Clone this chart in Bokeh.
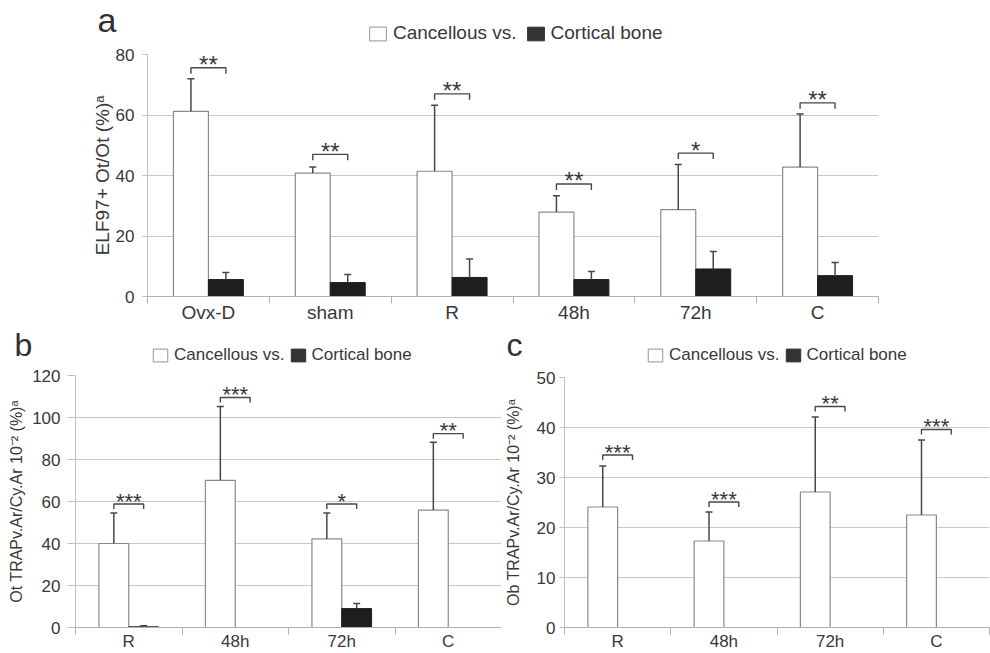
from bokeh.plotting import figure
from bokeh.models import (ColumnDataSource, FixedTicker, Whisker, TeeHead, Label,
                          Legend, LegendItem)
from bokeh.layouts import column, row
from bokeh.embed import file_html
from bokeh.resources import INLINE
from bokeh.core.properties import value

# ---------------- data ----------------
a_groups = ["Ovx-D", "sham", "R", "48h", "72h", "C"]
a_canc = [61.2, 40.8, 41.4, 27.9, 28.7, 42.8]
a_canc_sd = [10.8, 2.0, 21.8, 5.4, 14.9, 17.5]
a_cort = [5.6, 4.6, 6.3, 5.6, 9.1, 6.9]
a_cort_sd = [2.3, 2.7, 6.1, 2.7, 5.8, 4.3]
a_sig = ["**", "**", "**", "**", "*", "**"]
a_sig_y = [75.6, 47.0, 67.0, 37.2, 47.4, 64.0]
a_yticks = [0, 20, 40, 60, 80]

b_groups = ["R", "48h", "72h", "C"]
b_canc = [40.0, 70.1, 42.2, 55.9]
b_canc_sd = [14.5, 35.1, 12.3, 32.3]
b_cort = [0.3, 0.0, 9.0, 0.0]
b_cort_sd = [0.5, 0.0, 2.4, 0.0]
b_sig = ["***", "***", "*", "**"]
b_sig_y = [58.8, 109.5, 58.8, 92.3]
b_yticks = [0, 20, 40, 60, 80, 100, 120]

c_groups = ["R", "48h", "72h", "C"]
c_canc = [24.1, 17.3, 27.1, 22.5]
c_canc_sd = [8.2, 5.8, 15.0, 15.0]
c_cort = [0.0, 0.0, 0.0, 0.0]
c_cort_sd = [0.0, 0.0, 0.0, 0.0]
c_sig = ["***", "***", "**", "***"]
c_sig_y = [34.5, 25.1, 44.2, 39.6]
c_yticks = [0, 10, 20, 30, 40, 50]

legend_labels = ["Cancellous vs.", "Cortical bone"]

FONT = "Liberation Sans"
TXT = "#383838"
ERR = "#474747"


def make_header(width, height, canc, cort, letter, letter_xy, letter_fs, leg_xy, glyph_wh,
                fs_leg, spacing):
    """Strip above a panel holding the panel letter and the legend."""
    n = len(canc)
    h = figure(width=width, height=height, x_range=(0, n), y_range=(0, 100),
               output_backend="svg", toolbar_location=None,
               x_axis_location=None, y_axis_location=None,
               min_border_left=0, min_border_right=0, min_border_top=0,
               min_border_bottom=0)
    h.frame_align = False
    h.outline_line_color = None
    h.grid.visible = False
    h.background_fill_color = "white"
    h.border_fill_color = "white"
    xs = [i + 0.5 for i in range(n)]
    # hidden legend proxies (same series), only their swatches are shown in the legend
    rw = h.vbar(x=xs, top=canc, bottom=0, width=0.3, fill_color="white",
                line_color="#a8a8a8", line_width=1.2, visible=False)
    rb = h.vbar(x=xs, top=cort, bottom=0, width=0.3, fill_color="#333333",
                line_color="#333333", line_width=1, visible=False)
    legend = Legend(items=[LegendItem(label=legend_labels[0], renderers=[rw]),
                           LegendItem(label=legend_labels[1], renderers=[rb])],
                    location=leg_xy, orientation="horizontal", click_policy="none",
                    border_line_color=None, background_fill_alpha=0,
                    inactive_fill_alpha=0,
                    padding=0, margin=0, spacing=spacing, label_standoff=5,
                    glyph_width=glyph_wh[0], glyph_height=glyph_wh[1],
                    label_height=glyph_wh[1],
                    label_text_font=FONT, label_text_font_size=fs_leg,
                    label_text_color=TXT, label_text_baseline="middle")
    h.add_layout(legend)
    h.add_layout(Label(x=letter_xy[0], y=letter_xy[1], x_units="screen", y_units="screen",
                       text=letter, text_font=FONT, text_font_size=letter_fs,
                       text_color="#303030", text_baseline="middle"))
    return h


def make_panel(groups, canc, canc_sd, cort, cort_sd, sig, sig_y, yticks, ylabel,
               width, height, bl, br, bt, bb, bar_w, fs_tick, fs_ytick, fs_lab,
               fs_star, tick_out, tick_stand, lab_stand, leg_px, star_off, x_stand):
    n = len(groups)
    ymax = yticks[-1]
    p = figure(width=width, height=height, x_range=(0, n), y_range=(0, ymax),
               output_backend="svg", toolbar_location=None,
               min_border_left=bl, min_border_right=br, min_border_top=bt,
               min_border_bottom=bb)
    p.frame_align = False
    p.outline_line_color = None
    p.background_fill_color = "white"
    p.border_fill_color = "white"

    centers = [i + 0.5 for i in range(n)]
    off = bar_w / 2
    xw = [c - off for c in centers]
    xb = [c + off for c in centers]

    sw = ColumnDataSource(dict(x=xw, top=canc))
    sb = ColumnDataSource(dict(x=xb, top=cort))
    p.vbar(x="x", top="top", bottom=0, width=bar_w, source=sw,
           fill_color="white", line_color="#8a8a8a", line_width=1.2)
    p.vbar(x="x", top="top", bottom=0, width=bar_w, source=sb,
           fill_color="#1e1e1e", line_color="#1e1e1e", line_width=1)

    # error bars (upper only)
    ex, elo, eup = [], [], []
    for x, m, s in zip(xw + xb, list(canc) + list(cort), list(canc_sd) + list(cort_sd)):
        if s > 0:
            ex.append(x)
            elo.append(m)
            eup.append(m + s)
    es = ColumnDataSource(dict(x=ex, lower=elo, upper=eup))
    wk = Whisker(source=es, base="x", lower="lower", upper="upper", dimension="height",
                 line_color=ERR, line_width=1.5, lower_head=None,
                 upper_head=TeeHead(size=7, line_color=ERR, line_width=1.5),
                 level="glyph")
    p.add_layout(wk)

    # significance brackets
    frame_h = height - bt - bb
    leg = leg_px * ymax / frame_h
    xs, ys = [], []
    for l, r, y in zip(xw, xb, sig_y):
        xs.append([l, l, r, r])
        ys.append([y - leg, y, y, y - leg])
    p.multi_line(xs=xs, ys=ys, line_color=ERR, line_width=1.4)
    p.text(x=centers, y=sig_y, text=sig, text_align="center", text_baseline="alphabetic",
           y_offset=star_off, text_font=value(FONT), text_font_size=fs_star,
           text_color=TXT)

    # axes
    xa = p.xaxis[0]
    xa.ticker = FixedTicker(ticks=centers, minor_ticks=list(range(n + 1)))
    xa.major_label_overrides = {c: g for c, g in zip(centers, groups)}
    xa.major_tick_out = 0
    xa.major_tick_in = 0
    xa.minor_tick_out = 7
    xa.minor_tick_in = 0
    xa.minor_tick_line_color = "#b0b0b0"
    xa.axis_line_color = "#b0b0b0"
    xa.major_label_text_font = FONT
    xa.major_label_text_font_size = fs_tick
    xa.major_label_text_color = TXT
    xa.major_label_standoff = x_stand

    ya = p.yaxis[0]
    ya.ticker = FixedTicker(ticks=yticks, minor_ticks=[])
    ya.major_tick_out = tick_out
    ya.major_tick_in = 0
    ya.major_tick_line_color = "#c0c0c0"
    ya.minor_tick_out = 0
    ya.minor_tick_in = 0
    ya.axis_line_color = "#c0c0c0"
    ya.major_label_text_font = FONT
    ya.major_label_text_font_size = fs_ytick
    ya.major_label_text_color = TXT
    ya.major_label_standoff = tick_stand
    ya.axis_label = ylabel
    ya.axis_label_text_font = FONT
    ya.axis_label_text_font_style = "normal"
    ya.axis_label_text_font_size = fs_lab
    ya.axis_label_text_color = TXT
    ya.axis_label_standoff = lab_stand

    p.xgrid.visible = False
    p.ygrid.grid_line_color = "#c8c8c8"
    p.ygrid.grid_line_width = 1.2
    return p


# ---- panel a ----
ha = make_header(990, 44, a_canc, a_cort, "a", (97, 24.5), "34px", (367, 0), (21, 17),
                 "19px", 8)
pa = make_panel(a_groups, a_canc, a_canc_sd, a_cort, a_cort_sd, a_sig, a_sig_y, a_yticks,
                "ELF97+ Ot/Ot (%)\u1d43",
                width=990, height=281, bl=147, br=112, bt=10, bb=27, bar_w=0.287,
                fs_tick="19px", fs_ytick="17px", fs_lab="19px",
                fs_star="24px", tick_out=5, tick_stand=8, lab_stand=0,
                leg_px=6, star_off=-3, x_stand=-2)

# ---- panel b ----
hb = make_header(501, 40, b_canc, b_cort, "b", (14, 21), "32px", (151, 0), (18, 16),
                 "17px", 4)
pb = make_panel(b_groups, b_canc, b_canc_sd, b_cort, b_cort_sd, b_sig, b_sig_y, b_yticks,
                "Ot TRAPv.Ar/Cy.Ar 10\u207b\u00b2 (%)\u1d43",
                width=501, height=288, bl=75, br=0, bt=10, bb=25, bar_w=0.28,
                fs_tick="17px", fs_ytick="17px", fs_lab="16px",
                fs_star="22px", tick_out=8, tick_stand=7, lab_stand=4,
                leg_px=5, star_off=-3, x_stand=-3)

# ---- panel c ----
hc = make_header(489, 40, c_canc, c_cort, "c", (5, 21), "32px", (145, 0), (18, 16),
                 "17px", 4)
pc = make_panel(c_groups, c_canc, c_canc_sd, c_cort, c_cort_sd, c_sig, c_sig_y, c_yticks,
                "Ob TRAPv.Ar/Cy.Ar 10\u207b\u00b2 (%)\u1d43",
                width=489, height=288, bl=59, br=1, bt=12, bb=25, bar_w=0.28,
                fs_tick="17px", fs_ytick="17px", fs_lab="16px",
                fs_star="22px", tick_out=5, tick_stand=4, lab_stand=12,
                leg_px=5, star_off=-3, x_stand=-3)

layout = column(ha, pa, row(column(hb, pb), column(hc, pc)))
open("out.html", "w").write(file_html(layout, INLINE))
